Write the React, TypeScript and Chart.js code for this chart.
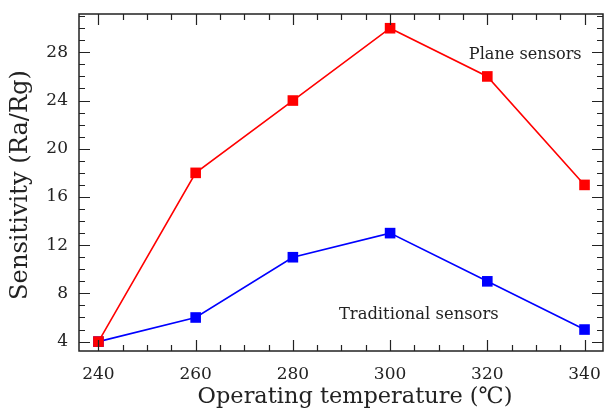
import React, { useEffect, useRef } from "react";
import { Chart, registerables } from "chart.js";

Chart.register(...registerables);

const TEMPERATURES = [240, 260, 280, 300, 320, 340];
const PLANE_SENSORS = [4, 18, 24, 30, 26, 17];
const TRADITIONAL_SENSORS = [4, 6, 11, 13, 9, 5];
const X_TICKS = [240, 260, 280, 300, 320, 340];
const Y_TICKS = [4, 8, 12, 16, 20, 24, 28];
const X_TITLE = "Operating temperature (℃)";
const Y_TITLE = "Sensitivity (Ra/Rg)";
const PLANE_LABEL = "Plane sensors";
const TRAD_LABEL = "Traditional sensors";

const FONT = "'DejaVu Serif', serif";
const INK = "#222";

function fitSize(ctx: CanvasRenderingContext2D, text: string, width: number) {
  ctx.font = `100px ${FONT}`;
  return (100 * width) / ctx.measureText(text).width;
}

function noPad(sc: any) {
  sc.paddingLeft = 0;
  sc.paddingRight = 0;
  sc.paddingTop = 0;
  sc.paddingBottom = 0;
}

const framePlugin = {
  id: "frame",
  afterDraw(chart: any) {
    const { ctx, chartArea: a, scales } = chart;
    const x = scales.x;
    const y = scales.y;
    ctx.save();
    ctx.strokeStyle = INK;
    ctx.lineWidth = 1.5;
    ctx.strokeRect(a.left, a.top, a.right - a.left, a.bottom - a.top);
    ctx.lineWidth = 1.2;
    const major = 11;
    const minor = 6;
    ctx.beginPath();
    for (let v = Math.ceil(x.min / 5) * 5; v <= x.max; v += 5) {
      const px = Math.round(x.getPixelForValue(v)) + 0.5;
      const len = v % 20 === 0 ? major : minor;
      ctx.moveTo(px, a.bottom);
      ctx.lineTo(px, a.bottom - len);
      ctx.moveTo(px, a.top);
      ctx.lineTo(px, a.top + len);
    }
    for (let v = Math.ceil(y.min); v <= y.max; v += 1) {
      const py = Math.round(y.getPixelForValue(v)) + 0.5;
      const len = v % 4 === 0 ? major : minor;
      ctx.moveTo(a.left, py);
      ctx.lineTo(a.left + len, py);
      ctx.moveTo(a.right, py);
      ctx.lineTo(a.right - len, py);
    }
    ctx.stroke();

    ctx.fillStyle = INK;
    ctx.textAlign = "center";
    ctx.textBaseline = "middle";
    let s = fitSize(ctx, X_TITLE, 315);
    ctx.font = `${s}px ${FONT}`;
    ctx.fillText(X_TITLE, 355, 397);
    s = fitSize(ctx, Y_TITLE, 230);
    ctx.save();
    ctx.translate(21, 185);
    ctx.rotate(-Math.PI / 2);
    ctx.font = `${s}px ${FONT}`;
    ctx.fillText(Y_TITLE, 0, 0);
    ctx.restore();
    s = fitSize(ctx, PLANE_LABEL, 113);
    ctx.font = `${s}px ${FONT}`;
    ctx.fillText(PLANE_LABEL, x.getPixelForValue(327.8), y.getPixelForValue(27.8));
    s = fitSize(ctx, TRAD_LABEL, 160);
    ctx.font = `${s}px ${FONT}`;
    ctx.fillText(TRAD_LABEL, x.getPixelForValue(305.9), y.getPixelForValue(6.2));
    ctx.restore();
  },
};

export default function App() {
  const ref = useRef<HTMLCanvasElement>(null);
  useEffect(() => {
    if (!ref.current) return;
    const chart = new Chart(ref.current, {
      type: "line",
      data: {
        datasets: [
          {
            label: PLANE_LABEL,
            data: TEMPERATURES.map((t, i) => ({ x: t, y: PLANE_SENSORS[i] })),
            borderColor: "#ff0000",
            backgroundColor: "#ff0000",
            borderWidth: 1.6,
            pointStyle: "rect",
            pointRadius: 7.5,
            pointBorderWidth: 0,
            tension: 0,
          },
          {
            label: TRAD_LABEL,
            data: TEMPERATURES.map((t, i) => ({ x: t, y: TRADITIONAL_SENSORS[i] })),
            borderColor: "#0000ff",
            backgroundColor: "#0000ff",
            borderWidth: 1.6,
            pointStyle: "rect",
            pointRadius: 7.5,
            pointBorderWidth: 0,
            tension: 0,
          },
        ],
      },
      options: {
        animation: false,
        responsive: false,
        devicePixelRatio: 1,
        layout: { autoPadding: false, padding: { top: 14, right: 1, left: 0, bottom: 0 } },
        plugins: { legend: { display: false }, tooltip: { enabled: false } },
        scales: {
          x: {
            type: "linear",
            min: 236,
            max: 343.8,
            grid: { display: false, drawTicks: false },
            border: { display: false },
            afterBuildTicks: (sc: any) => {
              sc.ticks = X_TICKS.map((v) => ({ value: v }));
            },
            afterFit: (sc: any) => {
              sc.height = 59;
              noPad(sc);
            },
            ticks: {
              font: { family: FONT, size: 17 },
              color: INK,
              padding: 13,
              maxRotation: 0,
              autoSkip: false,
            },
          },
          y: {
            type: "linear",
            min: 3.22,
            max: 31.18,
            grid: { display: false, drawTicks: false },
            border: { display: false },
            afterBuildTicks: (sc: any) => {
              sc.ticks = Y_TICKS.map((v) => ({ value: v }));
            },
            afterFit: (sc: any) => {
              sc.width = 79;
              noPad(sc);
            },
            ticks: {
              font: { family: FONT, size: 17 },
              color: INK,
              padding: 11,
              autoSkip: false,
            },
          },
        },
      },
      plugins: [framePlugin],
    } as any);
    return () => chart.destroy();
  }, []);
  return (
    <div style={{ position: "absolute", left: 0, top: 0, width: 604, height: 410, background: "#fff" }}>
      <canvas ref={ref} width={604} height={410} style={{ width: 604, height: 410, display: "block" }} />
    </div>
  );
}
